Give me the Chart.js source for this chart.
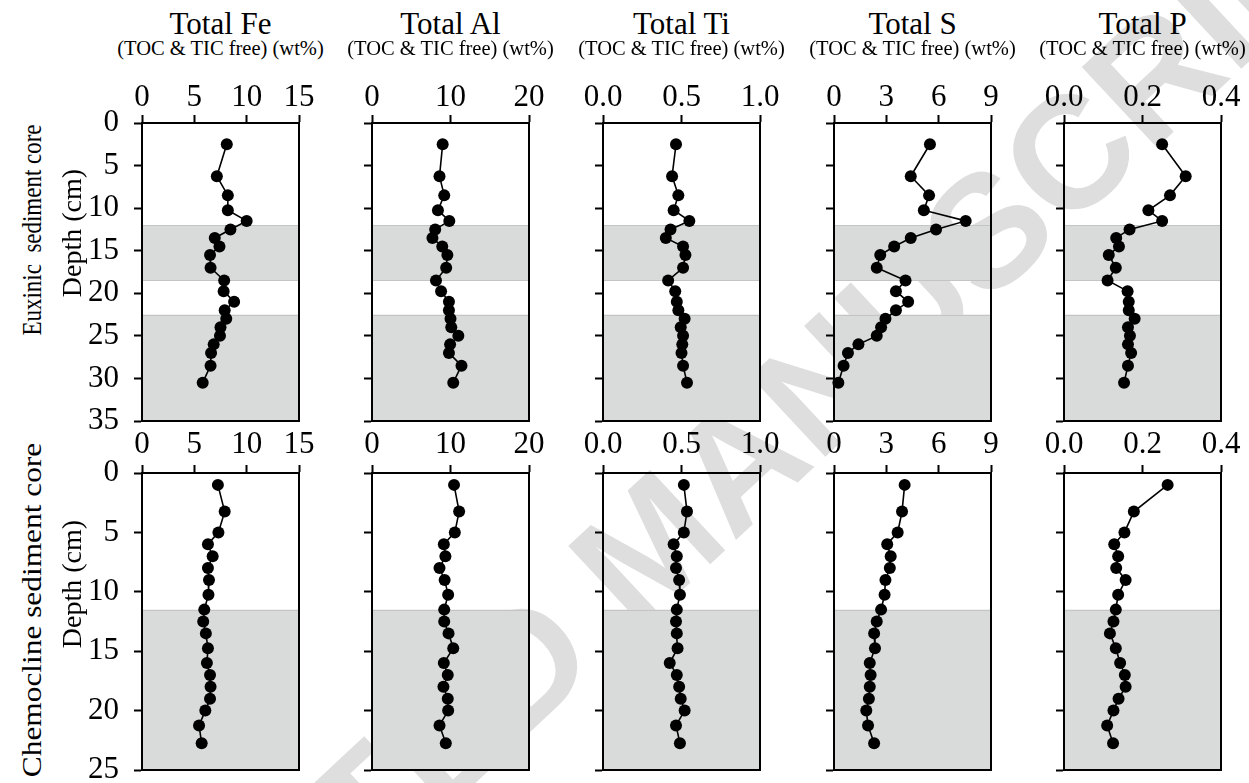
<!DOCTYPE html>
<html>
<head>
<meta charset="utf-8">
<script src="https://cdn.jsdelivr.net/npm/chart.js@4.4.1/dist/chart.umd.min.js"></script>
<style>
  html, body { margin: 0; padding: 0; background: #fff; }
  #stage { position: relative; width: 1249px; height: 783px; overflow: hidden; background: #fff;
           font-family: "Liberation Serif", Tinos, "Times New Roman", Times, serif; color: #000; }
  #stage canvas { position: absolute; }
  .lbl { position: absolute; white-space: pre; line-height: 1; transform: translate(-50%, -50%); }
  .box { position: absolute; box-sizing: border-box; border: 2px solid #000; pointer-events: none; }
  #mark { position: absolute; left: 650px; top: 545px; white-space: pre; line-height: 1;
          font-family: "Liberation Sans", Arimo, Arial, sans-serif; font-weight: bold; font-size: 160px;
          color: #dedede; transform: translate(-50%, -50%) rotate(-43deg); }
</style>
</head>
<body>
<div id="stage"><div id="mark">ACCEPTED MANUSCRIPT</div></div>
<script>
// ---- data: depth profiles (cm) of bulk element contents, TOC & TIC free (wt%) ----
const euxinicDepth = [2.5, 6.25, 8.5, 10.25, 11.5, 12.5, 13.5, 14.5, 15.5, 17, 18.5, 19.75, 21, 22, 23, 24, 25, 26, 27, 28.5, 30.5];
const euxinicFe = [8.1, 7.15, 8.2, 8.2, 10.0, 8.45, 6.95, 7.4, 6.5, 6.55, 7.85, 7.8, 8.8, 7.9, 8.05, 7.5, 7.45, 6.85, 6.6, 6.55, 5.8];
const euxinicAl = [9.0, 8.6, 9.2, 8.4, 9.85, 8.05, 7.7, 8.95, 9.6, 9.45, 8.15, 8.8, 9.8, 9.8, 10.0, 10.1, 11.0, 9.95, 9.8, 11.4, 10.35];
const euxinicTi = [0.465, 0.44, 0.48, 0.45, 0.55, 0.43, 0.40, 0.51, 0.525, 0.51, 0.415, 0.46, 0.47, 0.48, 0.52, 0.495, 0.51, 0.505, 0.50, 0.51, 0.535];
const euxinicS = [5.5, 4.4, 5.45, 5.15, 7.55, 5.85, 4.4, 3.45, 2.65, 2.45, 4.1, 3.55, 4.25, 3.55, 2.95, 2.7, 2.45, 1.4, 0.8, 0.55, 0.25];
const euxinicP = [0.25, 0.31, 0.27, 0.215, 0.25, 0.167, 0.133, 0.14, 0.114, 0.132, 0.111, 0.162, 0.165, 0.165, 0.18, 0.163, 0.168, 0.163, 0.171, 0.163, 0.153];

const chemoDepth = [1, 3.25, 5, 6, 7, 8, 9, 10.25, 11.5, 12.5, 13.5, 14.75, 16, 17, 18, 19, 20, 21.25, 22.75];
const chemoFe = [7.25, 7.9, 7.3, 6.3, 6.75, 6.3, 6.4, 6.35, 5.95, 5.85, 6.1, 6.3, 6.2, 6.5, 6.55, 6.5, 6.05, 5.45, 5.7];
const chemoAl = [10.45, 11.1, 10.55, 9.15, 9.35, 8.6, 9.25, 9.7, 9.2, 9.2, 9.75, 10.35, 9.15, 9.65, 9.1, 9.65, 9.7, 8.6, 9.4];
const chemoTi = [0.515, 0.535, 0.515, 0.45, 0.47, 0.465, 0.485, 0.49, 0.47, 0.465, 0.47, 0.475, 0.425, 0.47, 0.485, 0.495, 0.52, 0.465, 0.49];
const chemoS = [4.05, 3.9, 3.65, 3.05, 3.25, 3.2, 2.95, 2.9, 2.7, 2.45, 2.3, 2.35, 2.05, 2.1, 2.05, 2.0, 1.85, 1.95, 2.3];
const chemoP = [0.264, 0.178, 0.154, 0.128, 0.138, 0.133, 0.157, 0.138, 0.132, 0.126, 0.117, 0.132, 0.143, 0.155, 0.157, 0.139, 0.126, 0.110, 0.125];

// ---- axes and labels ----
const elementTitles = ['Total Fe', 'Total Al', 'Total Ti', 'Total S', 'Total P'];
const unitLabel = '(TOC & TIC free) (wt%)';
const feTicks = [0, 5, 10, 15];
const alTicks = [0, 10, 20];
const tiTicks = [0, 0.5, 1.0];
const sTicks = [0, 3, 6, 9];
const pTicks = [0, 0.2, 0.4];
const tickDecimals = [0, 0, 1, 0, 1];
const euxinicDepthTicks = [0, 5, 10, 15, 20, 25, 30, 35];
const chemoDepthTicks = [0, 5, 10, 15, 20, 25];
const euxinicBands = [[12, 18.5], [22.5, 35]];
const chemoBands = [[11.5, 25]];
const rowTitles = [['Euxinic  sediment core', 'Depth (cm)'], ['Chemocline sediment core', 'Depth (cm)']];

// ---- layout ----
const panelLeft = [142, 372, 603, 834, 1064];
const panelWidth = 157;
const rowTop = [123, 473];
const rowHeight = [298, 297];
const padY = 70, padX = 60, padRight = 30, padBottom = 24;
const SERIF = '"Liberation Serif", Tinos, "Times New Roman", Times, serif';

const rows = [
  { depth: euxinicDepth, series: [euxinicFe, euxinicAl, euxinicTi, euxinicS, euxinicP],
    depthTicks: euxinicDepthTicks, bands: euxinicBands, labelPad: 0 },
  { depth: chemoDepth, series: [chemoFe, chemoAl, chemoTi, chemoS, chemoP],
    depthTicks: chemoDepthTicks, bands: chemoBands, labelPad: 3 }
];
const xTicks = [feTicks, alTicks, tiTicks, sTicks, pTicks];

const stage = document.getElementById('stage');

// shaded depth intervals under the profile
const bandPlugin = {
  id: 'depthBands',
  beforeDraw(chart, args, opts) {
    const { ctx, chartArea: a, scales: { y } } = chart;
    ctx.save();
    opts.ranges.forEach(([from, to]) => {
      const y1 = y.getPixelForValue(from), y2 = y.getPixelForValue(to);
      ctx.fillStyle = '#d9dada';
      ctx.fillRect(a.left, y1, a.right - a.left, y2 - y1);
      ctx.strokeStyle = '#c3c4c4';
      ctx.lineWidth = 1;
      ctx.beginPath();
      ctx.moveTo(a.left, Math.round(y1) + 0.5); ctx.lineTo(a.right, Math.round(y1) + 0.5);
      if (to < y.max) { ctx.moveTo(a.left, Math.round(y2) - 0.5); ctx.lineTo(a.right, Math.round(y2) - 0.5); }
      ctx.stroke();
    });
    ctx.restore();
  }
};

function fixedTicks(values) {
  return scale => { scale.ticks = values.map(v => ({ value: v })); };
}

const tickGrid = { display: true, drawOnChartArea: false, drawTicks: true, tickLength: 8, tickWidth: 2, tickColor: '#000' };
const blackBorder = { display: true, color: '#000', width: 2 };

rows.forEach((row, r) => {
  row.series.forEach((vals, c) => {
    const ticks = xTicks[c];
    const cv = document.createElement('canvas');
    const w = padY + panelWidth + padRight, h = padX + rowHeight[r] + padBottom;
    cv.width = w; cv.height = h;
    cv.style.width = w + 'px'; cv.style.height = h + 'px';
    cv.style.left = (panelLeft[c] - padY) + 'px';
    cv.style.top = (rowTop[r] - padX) + 'px';
    stage.appendChild(cv);

    new Chart(cv, {
      type: 'scatter',
      data: {
        datasets: [{
          data: vals.map((v, i) => ({ x: v, y: row.depth[i] })),
          showLine: true,
          borderColor: '#000',
          borderWidth: 1.6,
          pointRadius: 6,
          pointHoverRadius: 6,
          pointBackgroundColor: '#000',
          pointBorderWidth: 0,
          clip: false
        }]
      },
      options: {
        responsive: false,
        animation: false,
        devicePixelRatio: 1,
        events: [],
        layout: { padding: { left: 0, top: 0, right: padRight, bottom: padBottom } },
        plugins: {
          legend: { display: false },
          tooltip: { enabled: false },
          depthBands: { ranges: row.bands }
        },
        scales: {
          x: {
            type: 'linear',
            position: 'top',
            min: ticks[0],
            max: ticks[ticks.length - 1],
            afterBuildTicks: fixedTicks(ticks),
            afterFit: s => { s.height = padX; s.paddingLeft = 0; s.paddingRight = 0; },
            border: blackBorder,
            grid: tickGrid,
            ticks: {
              color: '#000',
              padding: row.labelPad,
              maxRotation: 0,
              autoSkip: false,
              font: { family: SERIF, size: 31, lineHeight: 1.1 },
              callback: v => Number(v).toFixed(tickDecimals[c])
            }
          },
          y: {
            type: 'linear',
            reverse: true,
            min: row.depthTicks[0],
            max: row.depthTicks[row.depthTicks.length - 1],
            afterBuildTicks: fixedTicks(row.depthTicks),
            afterFit: s => { s.width = padY; s.paddingTop = 0; s.paddingBottom = 0; },
            border: blackBorder,
            grid: tickGrid,
            ticks: {
              display: c === 0,
              color: '#000',
              padding: 15,
              autoSkip: false,
              font: { family: SERIF, size: 31, lineHeight: 1.1 }
            }
          }
        }
      },
      plugins: [bandPlugin]
    });

    // panel outline
    const box = document.createElement('div');
    box.className = 'box';
    box.style.left = (panelLeft[c] - 1) + 'px';
    box.style.top = (rowTop[r] - 1) + 'px';
    box.style.width = (panelWidth + 2) + 'px';
    box.style.height = (rowHeight[r] + 2) + 'px';
    stage.appendChild(box);
  });
});

// column headings
elementTitles.forEach((t, c) => {
  const cx = panelLeft[c] + panelWidth / 2;
  const a = document.createElement('div');
  a.className = 'lbl'; a.textContent = t;
  a.style.left = cx + 'px'; a.style.top = '23px'; a.style.fontSize = '31px';
  stage.appendChild(a);
  const b = document.createElement('div');
  b.className = 'lbl'; b.textContent = unitLabel;
  b.style.left = cx + 'px'; b.style.top = '48px'; b.style.fontSize = '20.5px';
  stage.appendChild(b);
});

// row headings (rotated); the outer line is fitted to its depth span
const rowTitleX = [32, 72];
const rowTitleY = [[230, 233], [610, 584]];
const rowTitleStretch = [[0.82, 1], [1.12, 1]];
rowTitles.forEach((pair, r) => {
  pair.forEach((t, k) => {
    const d = document.createElement('div');
    d.className = 'lbl'; d.textContent = t;
    d.style.left = rowTitleX[k] + 'px';
    d.style.top = rowTitleY[r][k] + 'px';
    d.style.fontSize = '28px';
    d.style.transform = 'translate(-50%, -50%) rotate(-90deg) scaleX(' + rowTitleStretch[r][k] + ')';
    stage.appendChild(d);
  });
});
</script>
</body>
</html>
